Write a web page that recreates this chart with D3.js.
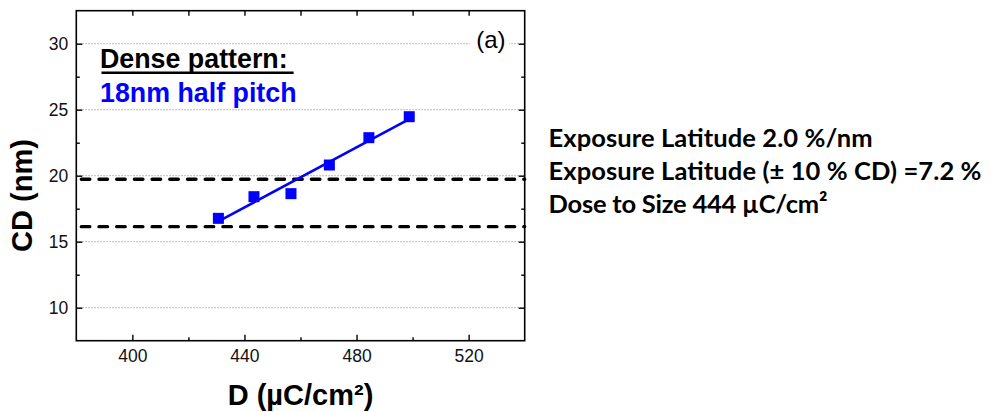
<!DOCTYPE html>
<html><head><meta charset="utf-8">
<script src="https://cdn.jsdelivr.net/npm/d3@7/dist/d3.min.js"></script>
<style>body{margin:0;background:#fff}svg{display:block}</style>
</head><body>
<svg id="c" width="991" height="412"></svg>
<script>
// ---- data ----
const doseValues = [430.7, 443.4, 456.6, 470.3, 484.4, 498.8];   // D (µC/cm²)
const cdValues   = [16.77, 18.41, 18.64, 20.81, 22.88, 24.47];   // CD (nm)
const limitLines = [19.73, 16.14];                               // ±10 % CD band (nm)
const xMajorTicks = [400, 440, 480, 520];
const xMinorTicks = [420, 460, 500];
const yMajorTicks = [10, 15, 20, 25, 30];
const yMinorTicks = [12.5, 17.5, 22.5, 27.5];
const xDomain = [380, 540];
const yDomain = [7.5, 32.5];
const infoLines = [
  "Exposure Latitude 2.0 %/nm",
  "Exposure Latitude (\u00B1 10 % CD) =7.2 %",
  "Dose to Size 444 \u00B5C/cm\u00B2"
];
const infoWidths = [324, 433, 279];

// ---- layout ----
const L = 76.3, R = 524.7, T = 10.7, B = 340.7;
const svg = d3.select("#c");
svg.append("rect").attr("width", 991).attr("height", 412).attr("fill", "#fff");

const x = d3.scaleLinear().domain(xDomain).range([L, R]);
const y = d3.scaleLinear().domain(yDomain).range([B, T]);
const ARIAL = "'Liberation Sans', Arial, Helvetica, sans-serif";

// grid
svg.append("g").selectAll("line").data(yMajorTicks).join("line")
  .attr("x1", L).attr("x2", R).attr("y1", d => y(d)).attr("y2", d => y(d))
  .attr("stroke", "#a8a8a8").attr("stroke-width", 1).attr("stroke-dasharray", "1.5,1.5");

// dashed limit lines
svg.append("g").selectAll("line").data(limitLines).join("line")
  .attr("x1", x(xDomain[0])).attr("x2", x(xDomain[1]))
  .attr("y1", d => y(d)).attr("y2", d => y(d))
  .attr("stroke", "#000").attr("stroke-width", 3.4)
  .attr("stroke-linecap", "round").attr("stroke-dasharray", "8.5,9.2").attr("stroke-dashoffset", -5);

// linear fit
const n = doseValues.length;
const mx = d3.mean(doseValues), my = d3.mean(cdValues);
let sxy = 0, sxx = 0;
for (let i = 0; i < n; i++) { sxy += (doseValues[i]-mx)*(cdValues[i]-my); sxx += (doseValues[i]-mx)**2; }
const slope = sxy / sxx, icpt = my - slope * mx;
const xs = d3.extent(doseValues);
svg.append("path")
  .datum(xs.map(v => [v, icpt + slope * v]))
  .attr("d", d3.line().x(d => x(d[0])).y(d => y(d[1])))
  .attr("fill", "none").attr("stroke", "#0000ff").attr("stroke-width", 2.6);

// markers
const S = 11;
svg.append("g").selectAll("rect").data(doseValues.map((d, i) => [d, cdValues[i]])).join("rect")
  .attr("x", d => x(d[0]) - S/2).attr("y", d => y(d[1]) - S/2)
  .attr("width", S).attr("height", S).attr("fill", "#0000ff");

// frame
svg.append("rect").attr("x", L).attr("y", T).attr("width", R - L).attr("height", B - T)
  .attr("fill", "none").attr("stroke", "#000").attr("stroke-width", 1.6);

function styleAxis(g) {
  g.select(".domain").remove();
  g.selectAll(".tick line").attr("stroke", "#000").attr("stroke-width", 1.4);
  g.selectAll("text").attr("font-family", ARIAL).attr("font-size", 17.5).attr("fill", "#111");
}
// bottom
svg.append("g").attr("transform", `translate(0,${B})`)
  .call(d3.axisBottom(x).tickValues(xMajorTicks).tickSizeInner(-6).tickSizeOuter(0).tickPadding(9).tickFormat(d3.format("d")))
  .call(styleAxis);
svg.append("g").attr("transform", `translate(0,${B})`)
  .call(d3.axisBottom(x).tickValues(xMinorTicks).tickSizeInner(-3.5).tickSizeOuter(0).tickFormat(""))
  .call(styleAxis);
// top
svg.append("g").attr("transform", `translate(0,${T})`)
  .call(d3.axisTop(x).tickValues(xMajorTicks.concat(xMinorTicks)).tickSizeInner(-5).tickSizeOuter(0).tickFormat(""))
  .call(styleAxis);
// left
svg.append("g").attr("transform", `translate(${L},0)`)
  .call(d3.axisLeft(y).tickValues(yMajorTicks).tickSizeInner(-6).tickSizeOuter(0).tickPadding(8).tickFormat(d3.format("d")))
  .call(styleAxis);
svg.append("g").attr("transform", `translate(${L},0)`)
  .call(d3.axisLeft(y).tickValues(yMinorTicks).tickSizeInner(-3.5).tickSizeOuter(0).tickFormat(""))
  .call(styleAxis);
// right
svg.append("g").attr("transform", `translate(${R},0)`)
  .call(d3.axisRight(y).tickValues(yMajorTicks).tickSizeInner(-6).tickSizeOuter(0).tickFormat(""))
  .call(styleAxis);
svg.append("g").attr("transform", `translate(${R},0)`)
  .call(d3.axisRight(y).tickValues(yMinorTicks).tickSizeInner(-3.5).tickSizeOuter(0).tickFormat(""))
  .call(styleAxis);

// axis titles
svg.append("text").attr("x", (L + R) / 2).attr("y", 405).attr("text-anchor", "middle")
  .attr("font-family", ARIAL).attr("font-weight", "bold").attr("font-size", 29).attr("fill", "#000")
  .text("D (\u00B5C/cm\u00B2)");
svg.append("text").attr("transform", "translate(32,195.5) rotate(-90)").attr("text-anchor", "middle")
  .attr("font-family", ARIAL).attr("font-weight", "bold").attr("font-size", 29).attr("fill", "#000")
  .text("CD (nm)");

// panel label with white background
svg.append("rect").attr("x", 470).attr("y", 26).attr("width", 39).attr("height", 28).attr("fill", "#fff");
svg.append("text").attr("x", 505.5).attr("y", 47.5).attr("text-anchor", "end")
  .attr("font-family", ARIAL).attr("font-size", 24).attr("fill", "#000").text("(a)");

// in-plot legend text
const t1 = svg.append("text").attr("x", 100).attr("y", 68.3)
  .attr("font-family", ARIAL).attr("font-weight", "bold").attr("font-size", 26.8).attr("fill", "#000")
  .text("Dense pattern:");
const w1 = t1.node().getComputedTextLength();
svg.append("line").attr("x1", 101.5).attr("x2", 100 + w1 + 6).attr("y1", 72.8).attr("y2", 72.8)
  .attr("stroke", "#000").attr("stroke-width", 2.4);
svg.append("text").attr("x", 100).attr("y", 101.7)
  .attr("font-family", ARIAL).attr("font-weight", "bold").attr("font-size", 26.8).attr("fill", "#0000ff")
  .text("18nm half pitch");

// right-side info text
svg.append("g").selectAll("text").data(infoLines).join("text")
  .attr("x", 548.5).attr("y", (d, i) => 146.7 + i * 33.3)
  .attr("font-family", "Lato, 'Open Sans', sans-serif").attr("font-weight", "bold")
  .attr("font-size", 25.5).attr("fill", "#000")
  .attr("textLength", (d, i) => infoWidths[i]).attr("lengthAdjust", "spacing")
  .text(d => d);
</script>
</body></html>
